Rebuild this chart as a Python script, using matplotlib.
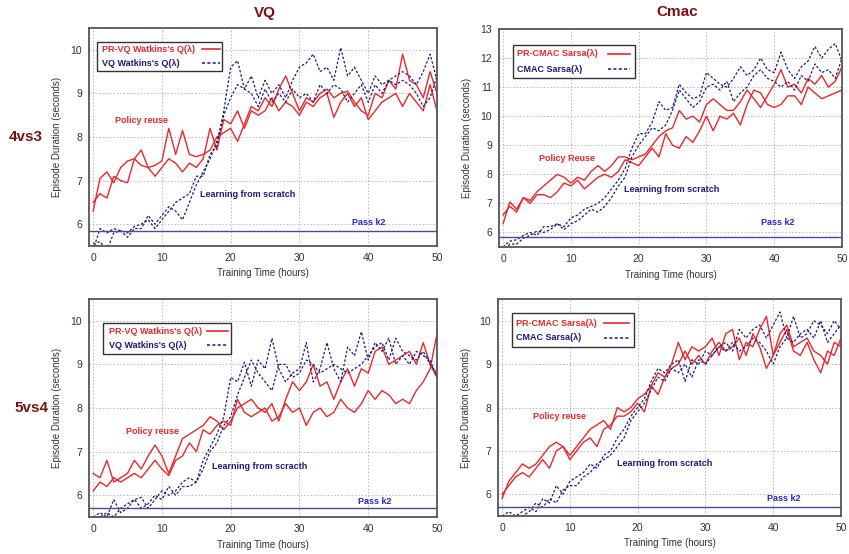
import matplotlib
matplotlib.use("Agg")
import matplotlib.pyplot as plt
from matplotlib.patches import Rectangle
import numpy as np

plt.rcParams['font.family'] = ['Liberation Sans', 'DejaVu Sans']

hours = np.arange(0, 51)

# 4vs3, VQ
vq43_pr_a = [6.3, 7.05, 7.2, 6.95, 7.3, 7.45, 7.5, 7.35, 7.3, 7.35, 7.45, 8.2, 7.6, 8.15, 7.6, 7.55, 7.6,
             7.7, 8.0, 8.1, 8.2, 7.9, 8.3, 8.7, 8.6, 8.9, 8.7, 9.1, 9.4, 9.0, 8.6, 8.9, 8.8, 9.0, 9.1,
             8.9, 9.0, 9.05, 8.8, 8.6, 8.5, 9.0, 8.9, 9.3, 9.1, 9.9, 9.3, 9.2, 8.9, 9.5, 9.0]
vq43_pr_b = [6.5, 6.7, 6.6, 7.1, 7.0, 6.95, 7.5, 7.7, 7.3, 7.1, 7.3, 7.5, 7.4, 7.2, 7.4, 7.3, 7.5,
             8.2, 7.7, 8.4, 8.3, 8.6, 8.2, 8.6, 8.5, 8.6, 8.9, 8.6, 8.8, 8.7, 8.5, 8.8, 8.7, 8.9, 9.0,
             8.45, 8.8, 9.0, 8.7, 8.9, 8.4, 8.6, 8.8, 8.9, 9.0, 8.7, 9.0, 8.8, 8.6, 9.2, 8.6]
vq43_sc_a = [5.4, 5.9, 5.8, 5.9, 5.85, 5.8, 5.95, 6.0, 6.1, 5.9, 6.1, 6.3, 6.5, 6.6, 6.7, 7.1, 7.1,
             7.6, 7.8, 8.6, 9.6, 9.75, 9.1, 9.4, 8.9, 9.3, 9.0, 9.2, 8.9, 9.3, 9.6, 9.7, 9.9, 9.5, 9.6,
             9.3, 10.05, 9.4, 9.6, 9.3, 9.0, 9.4, 9.2, 9.3, 9.4, 9.5, 9.4, 9.2, 9.5, 9.9, 9.3]
vq43_sc_b = [5.55, 5.6, 5.4, 5.8, 5.85, 5.7, 5.9, 5.9, 6.2, 6.0, 6.2, 6.4, 6.3, 6.1, 6.5, 6.9, 7.2,
             7.5, 7.9, 8.5, 8.9, 9.2, 9.1, 9.0, 8.7, 9.1, 8.8, 9.0, 8.8, 9.1, 8.9, 9.0, 8.8, 9.2, 9.0,
             9.2, 9.1, 8.8, 9.0, 9.2, 8.8, 9.2, 9.0, 9.3, 9.2, 9.3, 9.2, 9.0, 8.7, 8.9, 9.4]

# 4vs3, CMAC
cm43_pr_a = [6.3, 7.05, 6.8, 7.2, 7.1, 7.4, 7.6, 7.8, 8.0, 7.9, 7.7, 7.9, 7.8, 8.1, 8.3, 8.1, 8.3,
             8.6, 8.6, 8.5, 8.6, 8.7, 9.0, 9.3, 9.5, 9.6, 10.2, 9.9, 10.0, 9.8, 10.4, 10.6, 10.4, 10.2,
             10.2, 10.5, 10.9, 10.6, 10.3, 10.7, 11.1, 11.6, 11.0, 11.1, 10.8, 11.3, 11.1, 11.4, 11.0,
             11.2, 11.7]
cm43_pr_b = [6.6, 6.9, 6.7, 7.2, 7.0, 7.3, 7.3, 7.2, 7.4, 7.7, 7.6, 7.8, 7.5, 7.7, 7.9, 8.0, 7.9,
             8.1, 8.5, 8.4, 8.3, 8.6, 8.9, 8.6, 9.4, 9.0, 8.9, 9.3, 9.1, 9.5, 10.0, 9.5, 10.0, 9.9, 10.1,
             9.7, 10.4, 10.9, 10.8, 10.4, 10.3, 10.4, 10.7, 10.7, 10.4, 11.0, 10.8, 10.6, 10.7, 10.8, 10.9]
cm43_sc_a = [5.5, 5.7, 5.75, 5.9, 6.0, 5.9, 6.2, 6.2, 6.3, 6.2, 6.5, 6.6, 6.8, 6.9, 7.0, 7.2, 7.5,
             7.8, 8.2, 8.9, 9.4, 9.4, 9.8, 10.5, 10.2, 10.3, 11.1, 10.8, 10.6, 10.7, 11.5, 11.3, 11.1,
             11.0, 11.3, 11.7, 11.4, 11.6, 12.0, 11.6, 11.5, 12.2, 11.6, 11.3, 11.7, 11.9, 12.4, 12.0,
             12.3, 12.5, 11.9]
cm43_sc_b = [5.3, 5.6, 5.6, 5.8, 5.9, 6.05, 6.0, 6.1, 6.3, 6.1, 6.3, 6.4, 6.6, 6.8, 6.7, 6.9, 7.2,
             7.6, 7.9, 8.6, 9.0, 9.3, 9.6, 9.5, 9.7, 10.2, 10.9, 10.6, 10.3, 10.5, 11.0, 11.1, 10.9,
             11.2, 10.5, 10.8, 11.0, 11.4, 11.6, 11.3, 11.2, 11.0, 11.2, 10.9, 11.4, 11.2, 11.8, 11.5,
             11.6, 11.3, 12.0]

# 5vs4, VQ
vq54_pr_a = [6.5, 6.4, 6.8, 6.3, 6.4, 6.5, 6.8, 6.6, 6.9, 7.15, 6.9, 6.5, 6.9, 7.3, 7.4, 7.5, 7.6,
             7.8, 7.7, 7.5, 7.7, 8.0, 8.1, 8.2, 8.0, 7.9, 8.1, 7.7, 8.2, 8.6, 8.4, 8.6, 9.0, 8.5, 8.6,
             8.2, 8.6, 8.9, 8.5, 8.9, 8.8, 9.3, 9.4, 9.0, 9.1, 9.2, 9.3, 9.0, 9.5, 9.0, 8.7]
vq54_pr_b = [6.1, 6.3, 6.2, 6.4, 6.3, 6.4, 6.5, 6.4, 6.6, 6.8, 6.6, 6.45, 6.8, 6.9, 7.2, 7.0, 7.5,
             7.4, 7.6, 7.7, 7.6, 8.2, 7.9, 7.8, 7.9, 8.0, 7.7, 7.8, 8.1, 7.9, 8.0, 7.6, 7.9, 8.0, 7.8,
             7.9, 8.2, 8.0, 7.9, 8.1, 8.4, 8.2, 8.4, 8.3, 8.1, 8.2, 8.1, 8.4, 8.6, 8.9, 9.7]
vq54_sc_a = [5.5, 5.6, 5.5, 5.9, 5.6, 5.7, 5.9, 5.95, 5.7, 5.9, 6.1, 6.0, 6.1, 6.3, 6.4, 6.3, 6.8,
             7.1, 7.4, 7.8, 8.7, 8.6, 9.05, 8.5, 9.1, 8.9, 9.6, 8.9, 8.6, 8.8, 8.9, 9.5, 8.6, 8.9, 9.5,
             8.9, 8.6, 9.4, 9.2, 9.75, 9.1, 9.5, 9.3, 9.6, 9.0, 9.2, 9.0, 9.3, 9.2, 9.1, 8.7]
vq54_sc_b = [5.4, 5.5, 5.6, 5.5, 5.7, 5.8, 5.9, 5.7, 5.8, 6.0, 5.9, 6.2, 6.0, 6.2, 6.2, 6.3, 6.6,
             7.0, 7.2, 7.6, 7.8, 8.3, 8.7, 9.1, 8.8, 8.6, 8.4, 9.0, 9.0, 8.7, 8.8, 9.1, 9.0, 8.8, 8.9,
             9.0, 8.9, 8.8, 8.9, 9.0, 9.2, 9.4, 9.5, 9.1, 9.6, 9.3, 9.2, 9.1, 9.3, 9.0, 8.8]

# 5vs4, CMAC
cm54_pr_a = [5.9, 6.3, 6.5, 6.7, 6.6, 6.7, 6.9, 7.1, 7.2, 7.1, 6.9, 7.1, 7.3, 7.5, 7.6, 7.7, 7.5,
             8.0, 7.9, 8.0, 8.2, 8.3, 8.5, 8.8, 8.7, 9.0, 9.5, 9.1, 9.4, 9.3, 9.4, 9.6, 9.2, 9.7, 9.8,
             9.1, 9.5, 9.4, 9.8, 10.1, 9.2, 9.7, 9.9, 9.4, 9.5, 9.6, 9.3, 9.2, 9.0, 9.5, 9.4]
cm54_pr_b = [6.0, 6.2, 6.4, 6.5, 6.4, 6.6, 6.8, 6.6, 7.0, 7.1, 6.8, 7.0, 7.2, 7.3, 7.1, 7.5, 7.6,
             7.8, 7.8, 7.9, 8.1, 7.9, 8.5, 8.3, 8.7, 8.9, 9.0, 9.3, 9.0, 9.2, 9.0, 9.3, 9.5, 9.3, 9.4,
             9.6, 9.2, 9.7, 9.4, 8.9, 9.2, 9.5, 9.8, 9.3, 9.2, 9.5, 9.1, 8.8, 9.3, 9.2, 9.6]
cm54_sc_a = [5.5, 5.6, 5.5, 5.6, 5.7, 5.6, 5.9, 5.8, 6.2, 6.0, 6.3, 6.4, 6.5, 6.7, 6.6, 6.9, 7.0,
             7.3, 7.5, 7.8, 8.0, 8.2, 8.6, 8.9, 8.8, 9.0, 9.1, 8.6, 9.1, 9.0, 9.3, 9.2, 9.4, 9.5, 9.3,
             9.8, 9.6, 9.8, 9.9, 9.6, 9.9, 10.2, 9.6, 10.1, 9.6, 9.7, 10.0, 9.9, 9.7, 10.0, 9.8]
cm54_sc_b = [5.3, 5.4, 5.5, 5.5, 5.6, 5.8, 5.7, 5.9, 5.8, 6.1, 6.2, 6.2, 6.4, 6.5, 6.7, 6.8, 6.9,
             7.1, 7.3, 7.7, 7.9, 8.1, 8.4, 8.7, 8.6, 8.9, 8.8, 9.0, 8.7, 9.1, 9.0, 9.2, 9.4, 9.3, 9.5,
             9.3, 9.4, 9.6, 9.5, 9.3, 9.0, 9.4, 9.6, 9.5, 9.7, 9.8, 9.6, 10.0, 9.5, 9.7, 9.9]

pass_k2 = [5.84, 5.86, 5.7, 5.7]

RED = "#e8282c"
BLUE = "#1c1c78"
PASS = "#4a4a96"
LBLUE = "#2626d8"
TITLE = "#7a1212"
DASH = (0, (2, 1.5))
FS = 6.5

# legend box in pixels: (left, top, right, bottom, text x, row1 y, row2 y, handle x0, handle x1)
panels = [
    dict(rect=[89, 28, 348, 218], ylim=(5.5, 10.5), yt=range(6, 11),
         pr=(vq43_pr_a, vq43_pr_b), sc=(vq43_sc_a, vq43_sc_b), k2=pass_k2[0],
         lab=("PR-VQ Watkins's Q(λ)", "VQ Watkins's Q(λ)"),
         leg=(97, 42, 222, 71, 102, 49, 63, 202, 220),
         pol=("Policy reuse", 7.0, 8.38), lfs=("Learning from scratch", 22.5, 6.69), pk=(40.1, 6.05)),
    dict(rect=[499, 29, 343, 218], ylim=(5.5, 13), yt=range(6, 14),
         pr=(cm43_pr_a, cm43_pr_b), sc=(cm43_sc_a, cm43_sc_b), k2=pass_k2[1],
         lab=("PR-CMAC Sarsa(λ)", "CMAC Sarsa(λ)"),
         leg=(513, 45, 635, 78, 517, 54, 69, 608, 630),
         pol=("Policy Reuse", 9.4, 8.55), lfs=("Learning from scratch", 24.9, 7.48), pk=(40.5, 6.35)),
    dict(rect=[89, 299, 348, 218], ylim=(5.5, 10.5), yt=range(6, 11),
         pr=(vq54_pr_a, vq54_pr_b), sc=(vq54_sc_a, vq54_sc_b), k2=pass_k2[2],
         lab=("PR-VQ Watkins's Q(λ)", "VQ Watkins's Q(λ)"),
         leg=(103, 323, 231, 354, 109, 331, 345, 207, 228),
         pol=("Policy reuse", 8.7, 7.47), lfs=("Learning from scracth", 24.2, 6.65), pk=(40.9, 5.86)),
    dict(rect=[498, 299, 343, 217], ylim=(5.5, 10.5), yt=range(6, 11),
         pr=(cm54_pr_a, cm54_pr_b), sc=(cm54_sc_a, cm54_sc_b), k2=pass_k2[3],
         lab=("PR-CMAC Sarsa(λ)", "CMAC Sarsa(λ)"),
         leg=(512, 313, 634, 347, 516, 323, 338, 604, 629),
         pol=("Policy reuse", 8.4, 7.79), lfs=("Learning from scratch", 24.0, 6.72), pk=(41.6, 5.9)),
]

W, H = 849, 554
fig = plt.figure(figsize=(W / 100, H / 100), dpi=100)

for p in panels:
    x0, y0, w, h = p["rect"]
    ax = fig.add_axes([x0 / W, 1 - (y0 + h) / H, w / W, h / H])
    ax.plot(hours, p["pr"][0], color=RED, lw=1.0)
    ax.plot(hours, p["pr"][1], color=RED, lw=1.0)
    ax.plot(hours, p["sc"][0], color=BLUE, lw=0.9, ls=DASH)
    ax.plot(hours, p["sc"][1], color=BLUE, lw=0.9, ls=DASH)
    ax.axhline(p["k2"], color=PASS, lw=1.0)
    ax.set_xlim(-0.6, 50)
    ax.set_ylim(*p["ylim"])
    ax.set_xticks([0, 10, 20, 30, 40, 50])
    ax.set_yticks(list(p["yt"]))
    ax.grid(True, color="#b8b8b8", ls=(0, (1.5, 2)), lw=0.7)
    ax.tick_params(length=0, labelsize=7.5, labelcolor="#333333", pad=5)
    for s in ax.spines.values():
        s.set_color("#555555")
        s.set_linewidth(1.3)
    ax.set_xlabel("Training Time (hours)", fontsize=7, color="#333333", labelpad=4)
    ax.set_ylabel("Episode Duration (seconds)", fontsize=7, color="#333333", labelpad=6)

    # gnuplot-style key: text left, line sample on the right
    fx = lambda px: (px - x0) / w
    fy = lambda py: 1 - (py - y0) / h
    bl, bt, br, bb, tx0, r1, r2, hx0, hx1 = p["leg"]
    ax.add_patch(Rectangle((fx(bl), fy(bb)), fx(br) - fx(bl), fy(bt) - fy(bb),
                           transform=ax.transAxes, facecolor="white", edgecolor="#333333",
                           lw=1.0, zorder=5))
    ax.text(fx(tx0), fy(r1), p["lab"][0], transform=ax.transAxes, color=RED, fontsize=FS,
            weight="bold", va="center", zorder=6)
    ax.text(fx(tx0), fy(r2), p["lab"][1], transform=ax.transAxes, color=BLUE, fontsize=FS,
            weight="bold", va="center", zorder=6)
    ax.plot([fx(hx0), fx(hx1)], [fy(r1), fy(r1)], transform=ax.transAxes, color=RED,
            lw=1.2, zorder=6)
    ax.plot([fx(hx0), fx(hx1)], [fy(r2), fy(r2)], transform=ax.transAxes, color=BLUE,
            lw=1.1, ls=DASH, zorder=6)

    t, tx, ty = p["pol"]
    ax.text(tx, ty, t, color=RED, fontsize=FS, weight="bold", ha="center", va="center")
    t, tx, ty = p["lfs"]
    ax.text(tx, ty, t, color=BLUE, fontsize=FS, weight="bold", ha="center", va="center")
    ax.text(p["pk"][0], p["pk"][1], "Pass k2", color=LBLUE, fontsize=FS, weight="bold",
            ha="center", va="center")

fig.text(265 / W, 1 - 13 / H, "VQ", color=TITLE, fontsize=11, weight="bold", ha="center", va="center")
fig.text(677 / W, 1 - 12 / H, "Cmac", color=TITLE, fontsize=11, weight="bold", ha="center", va="center")
fig.text(26 / W, 1 - 137 / H, "4vs3", color=TITLE, fontsize=11, weight="bold", ha="center", va="center")
fig.text(31 / W, 1 - 408 / H, "5vs4", color=TITLE, fontsize=11, weight="bold", ha="center", va="center")

fig.savefig("out.png", dpi=100)
